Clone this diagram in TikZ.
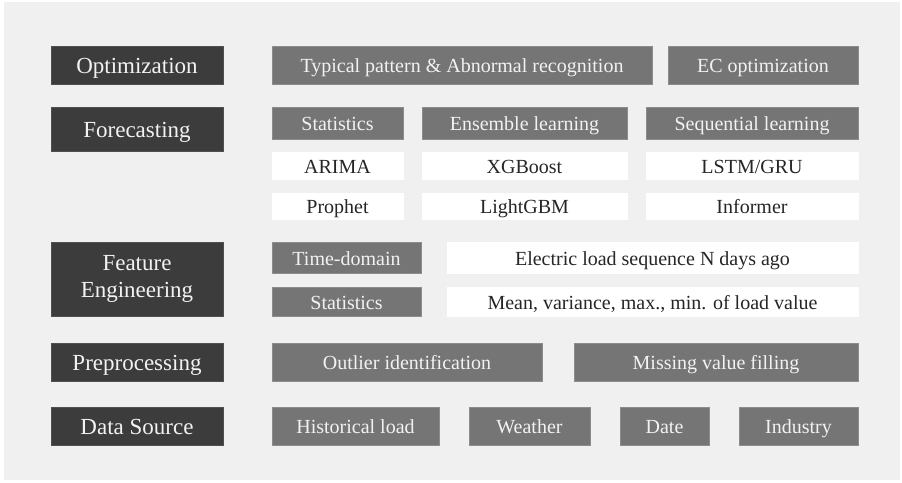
\documentclass[tikz,border=0pt]{standalone}
\usepackage{fontspec}
\setmainfont{Liberation Serif}
\definecolor{bgc}{HTML}{F0F0F0}
\definecolor{darkc}{HTML}{3C3C3C}
\definecolor{grayc}{HTML}{757575}
\definecolor{grayedge}{HTML}{8C8C8C}
\definecolor{lighttext}{HTML}{F2F2F2}
\definecolor{darktext}{HTML}{262626}
\tikzset{
  base/.style={inner sep=0pt, outer sep=0pt, align=center, line width=0.6pt},
  oneline/.style={text height=15.6pt, text depth=0pt},
  onelinebig/.style={text height=17.4pt, text depth=0pt},
  layerbox/.style={base, fill=darkc, draw=darkc!90!white, text=lighttext, font=\fontsize{23}{27}\selectfont},
  methodbox/.style={base, oneline, fill=grayc, draw=grayedge, text=lighttext, font=\fontsize{20}{24}\selectfont},
  itembox/.style={base, oneline, fill=white, draw=white, text=darktext, font=\fontsize{20}{24}\selectfont},
}
\newcommand\mybox[7]{%
  \node[#2, minimum width={(#5-#3)*1pt}, minimum height={(#6-#4)*1pt}]
    (#1) at ({(#3+#5)/2},{(#4+#6)/2}) {#7};}
\begin{document}
\begin{tikzpicture}[x=1pt,y=-1pt]
\useasboundingbox (0,0) rectangle (902,482);
\fill[white] (0,0) rectangle (902,482);
\fill[bgc] (4,2) rectangle (900,480);
% layer labels
\mybox{opt}{layerbox,onelinebig}{51}{46}{223}{84}{Optimization}
\mybox{fore}{layerbox,onelinebig}{51}{107}{223}{151}{Forecasting}
\mybox{feat}{layerbox}{51}{242}{223}{316}{Feature\\Engineering}
\mybox{prep}{layerbox,onelinebig}{51}{343}{223}{381}{Preprocessing}
\mybox{data}{layerbox,onelinebig}{51}{407}{223}{445}{Data Source}
% optimization
\mybox{typ}{methodbox}{272}{46}{652}{84}{Typical pattern \& Abnormal recognition}
\mybox{ec}{methodbox}{668}{46}{858}{84}{EC optimization}
% forecasting
\mybox{stat}{methodbox}{272}{107}{403}{139}{Statistics}
\mybox{ens}{methodbox}{422}{107}{627}{139}{Ensemble learning}
\mybox{seq}{methodbox}{646}{107}{858}{139}{Sequential learning}
\mybox{arima}{itembox}{272}{152}{403}{179}{ARIMA}
\mybox{xgb}{itembox}{422}{152}{627}{179}{XGBoost}
\mybox{lstm}{itembox}{646}{152}{858}{179}{LSTM/GRU}
\mybox{prophet}{itembox}{272}{193}{403}{219}{Prophet}
\mybox{lgbm}{itembox}{422}{193}{627}{219}{LightGBM}
\mybox{inf}{itembox}{646}{193}{858}{219}{Informer}
% feature engineering
\mybox{td}{methodbox}{272}{242}{421}{273}{Time-domain}
\mybox{elec}{itembox}{447}{242}{858}{273}{Electric load sequence N days ago}
\mybox{fstat}{methodbox}{272}{287}{421}{316}{Statistics}
\mybox{mean}{itembox}{447}{287}{858}{316}{Mean, variance, max., min. of load value}
% preprocessing
\mybox{outl}{methodbox}{272}{343}{542}{381}{Outlier identification}
\mybox{miss}{methodbox}{574}{343}{858}{381}{Missing value filling}
% data source
\mybox{hist}{methodbox}{272}{407}{439}{445}{Historical load}
\mybox{weat}{methodbox}{469}{407}{590}{445}{Weather}
\mybox{date}{methodbox}{620}{407}{709}{445}{Date}
\mybox{ind}{methodbox}{739}{407}{858}{445}{Industry}
\end{tikzpicture}
\end{document}
